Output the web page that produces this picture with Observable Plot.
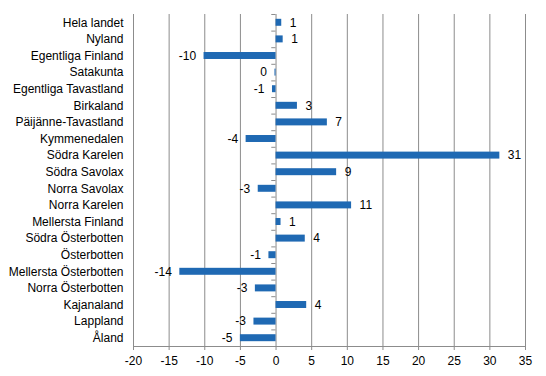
<!DOCTYPE html>
<html>
<head>
<meta charset="utf-8">
<script src="https://cdn.jsdelivr.net/npm/d3@7"></script>
<script src="https://cdn.jsdelivr.net/npm/@observablehq/plot@0.6"></script>
<style>
  html, body { margin: 0; padding: 0; background: #fff; }
</style>
</head>
<body>
<div id="chart"></div>
<script>
const categories = [
  "Hela landet", "Nyland", "Egentliga Finland", "Satakunta", "Egentliga Tavastland",
  "Birkaland", "Päijänne-Tavastland", "Kymmenedalen", "Södra Karelen", "Södra Savolax",
  "Norra Savolax", "Norra Karelen", "Mellersta Finland", "Södra Österbotten", "Österbotten",
  "Mellersta Österbotten", "Norra Österbotten", "Kajanaland", "Lappland", "Åland"
];
const values = [0.8, 1.0, -10.1, -0.15, -0.5, 3.0, 7.2, -4.2, 31.4, 8.5,
  -2.5, 10.6, 0.7, 4.1, -1.0, -13.5, -2.9, 4.3, -3.1, -5.0];
const labels = ["1", "1", "-10", "0", "-1", "3", "7", "-4", "31", "9",
  "-3", "11", "1", "4", "-1", "-14", "-3", "4", "-3", "-5"];
const xTicks = [-20, -15, -10, -5, 0, 5, 10, 15, 20, 25, 30, 35];

const data = categories.map((c, i) => ({category: c, value: values[i], label: labels[i]}));
const gray = "#8c8c8c";
const H = 376, mt = 14, mb = 30;
const step = (H - mt - mb) / categories.length;

const chart = Plot.plot({
  width: 546,
  height: H,
  marginLeft: 133,
  marginRight: 21,
  marginTop: mt,
  marginBottom: mb,
  style: {fontFamily: "'Liberation Sans', Arial, sans-serif", fontSize: "12px", color: "#000", background: "#fff"},
  x: {domain: [-20, 35], ticks: xTicks, tickFormat: d => String(d), label: null},
  y: {domain: categories, paddingInner: 0.58, paddingOuter: 0.29, round: false, label: null},
  marks: [
    Plot.ruleX(xTicks, {stroke: gray, strokeWidth: 1}),
    Plot.ruleY(categories, {y: d => d, x1: -0.6, x2: 0, dy: -step / 2, stroke: gray}),
    Plot.frame({anchor: "bottom", stroke: gray}),
    Plot.barX(data, {x: "value", y: "category", fill: "#1f69b3"}),
    Plot.text(data.filter(d => d.value >= 0), {x: "value", y: "category", text: "label", textAnchor: "start", dx: 8, fill: "#000"}),
    Plot.text(data.filter(d => d.value < 0), {x: "value", y: "category", text: "label", textAnchor: "end", dx: -8, fill: "#000"}),
    Plot.axisX({ticks: xTicks, tickSize: 4, stroke: gray, tickPadding: 6, tickFormat: d => String(d), fill: "#000", label: null}),
    Plot.axisY({tickSize: 0, tickPadding: 10, fill: "#000", label: null})
  ]
});
document.getElementById("chart").appendChild(chart);
</script>
</body>
</html>
